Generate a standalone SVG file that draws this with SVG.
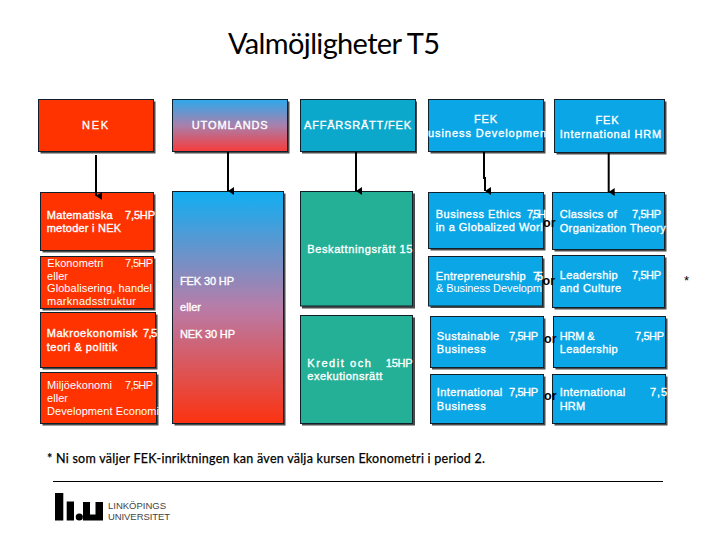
<svg xmlns="http://www.w3.org/2000/svg" width="720" height="540" viewBox="0 0 720 540">
<style>
.s{fill:#4a4a4a}
.b{stroke:#10202a;stroke-width:1}
.r{fill:#ff3300}
.c{fill:#0ca8cc}
.f{fill:#0aa6e6}
.t{fill:#24b096}
text{font-family:"Liberation Sans",Arial,sans-serif;font-size:11px;fill:#fff;stroke:#fff;stroke-width:.35}
text.n{stroke:none}
text.o{fill:#000;stroke:none;font-weight:bold;font-size:12.5px}
text.k{fill:#000;stroke:none}
text.l{font-family:Lato,sans-serif}
text.u{fill:#444;stroke:none;font-size:9.5px}
#conn path{fill:none;stroke:#000;stroke-width:2}
</style>
<defs>
<linearGradient id="g1" x1="0" y1="0" x2="0" y2="1"><stop offset="0" stop-color="#2ea8ec"/><stop offset=".5" stop-color="#a880ac"/><stop offset="1" stop-color="#f83a3a"/></linearGradient>
<linearGradient id="g2" x1="0" y1="0" x2="0" y2="1"><stop offset="0" stop-color="#10aef2"/><stop offset=".5" stop-color="#b87ca8"/><stop offset="1" stop-color="#fc3210"/></linearGradient>
<marker id="a" markerUnits="userSpaceOnUse" markerWidth="8" markerHeight="7" refX="4" refY="6" orient="auto-start-reverse" viewBox="0 0 8 7"><path d="M0 0H8L4 6Z" fill="#000"/></marker>
</defs>
<text class="k l" x="228" y="54" textLength="212" style="font-size:29px">Valmöjligheter T5</text>

<g id="nek"><rect class="s" x="40.5" y="101.5" width="115" height="52"/><rect class="b r" x="38.5" y="99.5" width="115" height="52"/><text x="82" y="129" textLength="26">NEK</text></g>
<g id="utomlands"><rect class="s" x="174.5" y="101.5" width="115" height="52"/><rect class="b" fill="url(#g1)" x="172.5" y="99.5" width="115" height="52"/><text x="191.7" y="129" textLength="76">UTOMLANDS</text></g>
<g id="affarsratt"><rect class="s" x="302" y="101.5" width="115" height="52"/><rect class="b c" x="300.5" y="99.5" width="115" height="52"/><text x="304" y="129" textLength="107">AFFÄRSRÄTT/FEK</text></g>
<g id="fek-bd"><rect class="s" x="430.5" y="101.5" width="115" height="52"/><rect class="b f" x="428.5" y="99.5" width="115" height="52"/><text x="474" y="123" textLength="23">FEK</text><text x="428" y="136.7" textLength="118">usiness Developmen</text></g>
<g id="fek-hrm"><rect class="s" x="556.5" y="101.5" width="110" height="53"/><rect class="b f" x="554.5" y="99.5" width="110" height="53"/><text x="595.5" y="123.7" textLength="23">FEK</text><text x="559.7" y="137.7" textLength="101.5">International HRM</text></g>

<g id="matematiska"><rect class="s" x="42.5" y="194.5" width="113" height="58"/><rect class="b r" x="40.5" y="192.5" width="113" height="58"/><text x="46.7" y="219" textLength="66">Matematiska</text><text x="125" y="219" textLength="30">7,5HP</text><text x="46.7" y="231.7" textLength="74.5">metoder i NEK</text></g>
<g id="ekonometri"><rect class="s" x="42.5" y="258.5" width="113" height="52"/><rect class="b r" x="40.5" y="256.5" width="113" height="52"/><text class="n" x="47.3" y="266.7" textLength="56">Ekonometri</text><text class="n" x="125" y="266.7" textLength="28">7,5HP</text><text class="n" x="47" y="280" textLength="21">eller</text><text class="n" x="47" y="292" textLength="105">Globalisering, handel</text><text class="n" x="47" y="305" textLength="89">marknadsstruktur</text></g>
<g id="makro"><rect class="s" x="42.5" y="314.5" width="115" height="55"/><rect class="b r" x="40.5" y="312.5" width="115" height="55"/><text x="46.7" y="337.3" textLength="90.5">Makroekonomisk</text><text x="143" y="337.3" textLength="14">7,5</text><text x="46.7" y="350.7" textLength="70.5">teori &amp; politik</text></g>
<g id="miljo"><rect class="s" x="42.5" y="374.5" width="116" height="51"/><rect class="b r" x="40.5" y="372.5" width="116" height="51"/><text class="n" x="47" y="389" textLength="65">Miljöekonomi</text><text class="n" x="125" y="389" textLength="28">7,5HP</text><text class="n" x="47" y="402" textLength="21">eller</text><text class="n" x="47" y="415" textLength="112">Development Economi</text></g>

<g id="utomlands-kurser"><rect class="s" x="174.5" y="193.5" width="111" height="232"/><rect class="b" fill="url(#g2)" x="172.5" y="191.5" width="111" height="232"/><text x="180" y="284.7" textLength="54">FEK 30 HP</text><text x="180" y="311" textLength="21">eller</text><text x="180" y="337.7" textLength="55">NEK 30 HP</text></g>

<g id="beskattning"><rect class="s" x="302" y="193.5" width="113" height="115"/><rect class="b t" x="300.5" y="191.5" width="112" height="114.5"/><text x="307.3" y="253.3" textLength="105">Beskattningsrätt  15</text></g>
<g id="kredit"><rect class="s" x="302" y="317.5" width="113" height="108"/><rect class="b t" x="300.5" y="315.5" width="112" height="108"/><text x="307.3" y="366.7" textLength="63.5">Kredit och</text><text x="385.7" y="366.7" textLength="27">15HP</text><text x="307.3" y="380" textLength="75">exekutionsrätt</text></g>

<g id="ethics"><rect class="s" x="430.5" y="194.5" width="115" height="56"/><rect class="b f" x="428.5" y="192.5" width="115" height="56"/><text x="435.7" y="218.3" textLength="85">Business Ethics</text><text x="527" y="218.3" textLength="19">7,5H</text><text x="435.7" y="231" textLength="107">in a Globalized Worl</text></g>
<g id="entrepreneurship"><rect class="s" x="430.5" y="258.5" width="114" height="49.5"/><rect class="b f" x="428.5" y="256.5" width="114" height="49.5"/><text x="435.7" y="280" textLength="90">Entrepreneurship</text><text x="533" y="280" textLength="10">7,5</text><text class="n" x="436" y="291.7" textLength="106">&amp; Business Developm</text></g>
<g id="sustainable"><rect class="s" x="432" y="318.5" width="113.5" height="51"/><rect class="b f" x="430.5" y="316.5" width="113" height="51"/><text x="436.7" y="340" textLength="62.5">Sustainable</text><text x="509" y="340" textLength="29">7,5HP</text><text x="436.7" y="352.7" textLength="49">Business</text></g>
<g id="int-business"><rect class="s" x="432" y="376.5" width="113.5" height="49"/><rect class="b f" x="430.5" y="374.5" width="113" height="49"/><text x="436.7" y="396" textLength="65.5">International</text><text x="509" y="396" textLength="29">7,5HP</text><text x="436.7" y="410" textLength="49">Business</text></g>

<g id="classics"><rect class="s" x="554.5" y="194.5" width="112" height="57"/><rect class="b f" x="552.5" y="192.5" width="112" height="57"/><text x="559.7" y="218.3" textLength="57">Classics of</text><text x="632" y="218.3" textLength="29">7,5HP</text><text x="559.7" y="231.7" textLength="106">Organization Theory</text></g>
<g id="leadership"><rect class="s" x="554.5" y="257.5" width="112" height="52"/><rect class="b f" x="552.5" y="255.5" width="112" height="52"/><text x="559.7" y="279" textLength="58">Leadership</text><text x="632" y="279" textLength="29">7,5HP</text><text x="559.7" y="291.7" textLength="61.5">and Culture</text></g>
<g id="hrm-leadership"><rect class="s" x="555.5" y="318.5" width="112" height="51"/><rect class="b f" x="553.5" y="316.5" width="112" height="51"/><text x="559.7" y="340" textLength="35">HRM &amp;</text><text x="635" y="340" textLength="29">7,5HP</text><text x="559.7" y="352.7" textLength="58">Leadership</text></g>
<g id="int-hrm"><rect class="s" x="554.5" y="376.5" width="113" height="49"/><rect class="b f" x="552.5" y="374.5" width="113" height="49"/><text x="559.7" y="396" textLength="65.5">International</text><text x="650" y="396" textLength="17">7,5</text><text x="559.7" y="410" textLength="25.5">HRM</text></g>

<text class="o" x="543" y="226.7">or</text>
<text class="o" x="542.5" y="285">or</text>
<text class="o" x="544" y="343.3">or</text>
<text class="o" x="544" y="400">or</text>

<g id="conn">
<path d="M96 155V196" marker-end="url(#a)"/>
<path d="M228 152V191" marker-end="url(#a)"/>
<path d="M356 152V191" marker-end="url(#a)"/>
<path d="M484 152V178H485V191" marker-end="url(#a)"/>
<path d="M608.7 153V192" marker-end="url(#a)"/>
</g>

<text class="k" x="684" y="285" style="font-size:13px">*</text>
<text class="k l" x="47" y="463" textLength="438" style="font-size:12.5px;stroke:#000;stroke-width:.25">* Ni som väljer FEK-inriktningen kan även välja kursen Ekonometri i period 2.</text>
<path d="M53 481.5H663" stroke="#000" stroke-width="1" fill="none"/>
<g id="logo">
<rect x="55" y="493" width="8.3" height="27.5" fill="#000"/>
<rect x="66.7" y="501.5" width="7.3" height="19" fill="#000"/>
<circle cx="79.3" cy="517" r="3.6" fill="#000"/>
<path d="M83 502H90V514.5H95.500V502H103V520.500H83Z" fill="#000"/>
<text class="u" x="108" y="509" textLength="58">LINKÖPINGS</text>
<text class="u" x="108" y="520" textLength="62">UNIVERSITET</text>
</g>
</svg>
